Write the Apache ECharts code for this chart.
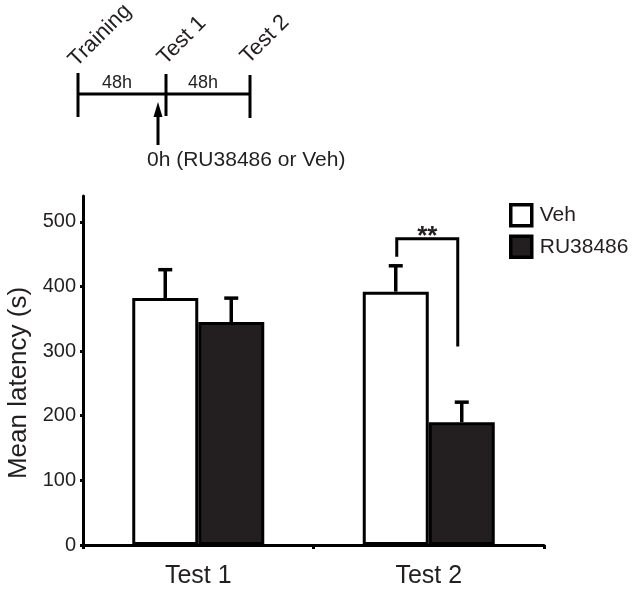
<!DOCTYPE html>
<html>
<head>
<meta charset="utf-8">
<script src="https://cdn.jsdelivr.net/npm/echarts@6/dist/echarts.min.js"></script>
<style>
  html, body { margin: 0; padding: 0; background: #fff; }
  #chart { width: 637px; height: 597px; }
</style>
</head>
<body>
<div id="chart"></div>
<script>
// data
const categories = ["Test 1", "Test 2"];
const vehMean = [382, 392];
const vehErr = [44, 40];
const ruMean = [345, 190];
const ruErr = [37, 31];
const yTicks = [0, 100, 200, 300, 400, 500];
// significance bracket over Test 2: top, left foot, right foot
const sigBracket = [1, 474, 446, 307];
const sigLabel = "**";

const FONT = "'Liberation Sans', Arial, Helvetica, sans-serif";
const INK = "#231f20";
const BAR_W = 66;

const chart = echarts.init(document.getElementById("chart"));

const errData = [];
categories.forEach((c, i) => {
  errData.push([i, vehMean[i], vehErr[i], -1]);
  errData.push([i, ruMean[i], ruErr[i], 1]);
});

function renderErr(params, api) {
  const i = api.value(0);
  const top = api.coord([i, api.value(1) + api.value(2)]);
  const base = api.coord([i, api.value(1)]);
  const x = top[0] + api.value(3) * BAR_W / 2;
  const st = { stroke: "#000", lineWidth: 3.5 };
  return {
    type: "group",
    children: [
      { type: "line", shape: { x1: x, y1: base[1], x2: x, y2: top[1] }, style: st },
      { type: "line", shape: { x1: x - 7, y1: top[1], x2: x + 7, y2: top[1] }, style: st }
    ]
  };
}

function renderSig(params, api) {
  const i = api.value(0);
  const t = api.coord([i, api.value(1)]);
  const l = api.coord([i, api.value(2)]);
  const r = api.coord([i, api.value(3)]);
  const xL = t[0] - 32, xR = t[0] + 29;
  return {
    type: "group",
    children: [
      {
        type: "polyline",
        shape: { points: [[xL, l[1]], [xL, t[1]], [xR, t[1]], [xR, r[1]]] },
        style: { stroke: "#000", lineWidth: 3, fill: null }
      },
      {
        type: "text",
        x: (xL + xR) / 2, y: t[1] + 11,
        style: { text: sigLabel, font: "bold 26px " + FONT, fill: INK, align: "center", verticalAlign: "bottom" }
      }
    ]
  };
}

const lineStyle = { stroke: "#000", lineWidth: 3 };

chart.setOption({
  animation: false,
  backgroundColor: "#fff",
  textStyle: { fontFamily: FONT, color: INK },
  grid: { left: 83, right: 93, top: 196, bottom: 52 },
  legend: {
    data: ["Veh", "RU38486"],
    orient: "vertical",
    left: 509,
    top: 203,
    padding: 0,
    icon: "rect",
    itemWidth: 21,
    itemHeight: 21,
    itemGap: 7,
    itemStyle: { borderColor: "#000", borderWidth: 3.5 },
    textStyle: { fontSize: 21, color: INK, fontFamily: FONT, padding: [0, 0, 0, 3] }
  },
  xAxis: {
    type: "category",
    data: categories,
    axisLine: { lineStyle: { color: "#000", width: 3 } },
    axisTick: { show: true, length: 4, lineStyle: { color: "#000", width: 3 } },
    axisLabel: { fontSize: 25, color: INK, margin: 19, fontFamily: FONT }
  },
  yAxis: {
    type: "value",
    min: 0,
    max: 540,
    splitLine: { show: false },
    axisLine: { show: true, lineStyle: { color: "#000", width: 3 } },
    axisTick: { show: true, length: 3, customValues: yTicks, lineStyle: { color: "#000", width: 3 } },
    axisLabel: { fontSize: 20, color: INK, margin: 7, customValues: yTicks, fontFamily: FONT }
  },
  graphic: [
    {
      type: "text", x: 19, y: 383, rotation: Math.PI / 2,
      style: { text: "Mean latency (s)", font: "26px " + FONT, fill: INK, align: "center", verticalAlign: "middle" }
    },
    // timeline schematic
    { type: "line", shape: { x1: 78, y1: 94, x2: 250, y2: 94 }, style: lineStyle },
    { type: "line", shape: { x1: 78, y1: 73, x2: 78, y2: 117 }, style: lineStyle },
    { type: "line", shape: { x1: 166, y1: 74, x2: 166, y2: 116 }, style: lineStyle },
    { type: "line", shape: { x1: 250, y1: 75, x2: 250, y2: 118 }, style: lineStyle },
    { type: "text", x: 117, y: 83, style: { text: "48h", font: "18px " + FONT, fill: INK, align: "center", verticalAlign: "middle" } },
    { type: "text", x: 203, y: 83, style: { text: "48h", font: "18px " + FONT, fill: INK, align: "center", verticalAlign: "middle" } },
    { type: "text", x: 80, y: 71, rotation: Math.PI / 4, style: { text: "Training", font: "22px " + FONT, fill: INK, align: "left", verticalAlign: "bottom" } },
    { type: "text", x: 169, y: 69, rotation: Math.PI / 4, style: { text: "Test 1", font: "22px " + FONT, fill: INK, align: "left", verticalAlign: "bottom" } },
    { type: "text", x: 252, y: 68, rotation: Math.PI / 4, style: { text: "Test 2", font: "22px " + FONT, fill: INK, align: "left", verticalAlign: "bottom" } },
    { type: "line", shape: { x1: 158, y1: 145, x2: 158, y2: 114 }, style: lineStyle },
    { type: "polygon", shape: { points: [[158, 102], [153.5, 117], [162.5, 117]] }, style: { fill: "#000" } },
    { type: "text", x: 147, y: 160, style: { text: "0h (RU38486 or Veh)", font: "21px " + FONT, fill: INK, align: "left", verticalAlign: "middle" } }
  ],
  series: [
    {
      name: "Veh",
      type: "bar",
      data: vehMean,
      barWidth: BAR_W,
      barGap: 0,
      itemStyle: { color: "#fff", borderColor: "#000", borderWidth: 3 }
    },
    {
      name: "RU38486",
      type: "bar",
      data: ruMean,
      barWidth: BAR_W,
      barGap: 0,
      itemStyle: { color: INK, borderColor: "#000", borderWidth: 3 }
    },
    {
      type: "custom",
      renderItem: renderErr,
      data: errData,
      encode: { x: 0, y: 1 },
      z: 1
    },
    {
      type: "custom",
      renderItem: renderSig,
      data: [sigBracket],
      encode: { x: 0, y: 1 },
      z: 3
    }
  ]
});
</script>
</body>
</html>
